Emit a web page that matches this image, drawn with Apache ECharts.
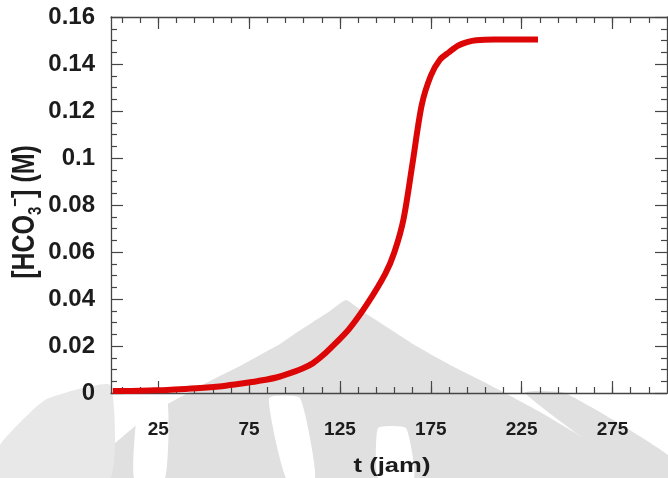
<!DOCTYPE html>
<html>
<head>
<meta charset="utf-8">
<script src="https://cdn.jsdelivr.net/npm/echarts@6/dist/echarts.min.js"></script>
<style>
  html, body { margin: 0; padding: 0; background: #ffffff; }
  #chart { width: 668px; height: 478px; }
</style>
</head>
<body>
<div id="chart"></div>
<script>
// Bicarbonate concentration over time
const timeJam = [0, 10, 20, 30, 40, 50, 60, 70, 80, 90, 100, 105, 110, 115, 120, 130, 140, 150, 155, 160, 165, 170, 175, 180, 185, 190, 195, 200, 210, 234];
const hco3M   = [0.0008, 0.0009, 0.0011, 0.0013, 0.0017, 0.0022, 0.0029, 0.0039, 0.0051, 0.0066, 0.0091, 0.0106, 0.0126, 0.0156, 0.0192, 0.0272, 0.0379, 0.0508, 0.0600, 0.0740, 0.0980, 0.1225, 0.1350, 0.1418, 0.1450, 0.1478, 0.1493, 0.1501, 0.1504, 0.1504];

// Axis ticks
const xMajorTicks = [25, 75, 125, 175, 225, 275];
const xMinorTicks = [5, 15, 25, 35, 45, 55, 65, 75, 85, 95, 105, 115, 125, 135, 145, 155, 165, 175, 185, 195, 205, 215, 225, 235, 245, 255, 265, 275, 285, 295];
const xRange = [-1, 305];
const yRange = [0, 0.16];
const yStep = 0.02;

const FONT = "'Liberation Sans', Arial, Helvetica, sans-serif";
const AXIS_COLOR = '#454545';
const TEXT_COLOR = '#1c1c1c';
const MARK_GREY = '#e0e0e0';

const chart = echarts.init(document.getElementById('chart'), null, { renderer: 'canvas' });

function xAxisBase(position) {
  return {
    type: 'value', position: position, min: xRange[0], max: xRange[1],
    splitLine: { show: false },
    axisLine: { show: true, onZero: false, lineStyle: { color: AXIS_COLOR, width: 1.3 } },
    axisLabel: { show: false }
  };
}

const majorTick = { show: true, inside: true, length: 12, customValues: xMajorTicks, lineStyle: { color: AXIS_COLOR, width: 1.2 } };
const minorTick = { show: true, inside: true, length: 6, customValues: xMinorTicks, lineStyle: { color: AXIS_COLOR, width: 1.2 } };

const xBottom = Object.assign(xAxisBase('bottom'), {
  axisTick: majorTick,
  axisLabel: { show: true, customValues: xMajorTicks, margin: 27, fontSize: 19, fontWeight: 'bold', color: TEXT_COLOR, fontFamily: FONT }
});
const xTop = Object.assign(xAxisBase('top'), { axisTick: majorTick });
const xBottomMinor = Object.assign(xAxisBase('bottom'), { axisLine: { show: false, onZero: false }, axisTick: minorTick });
const xTopMinor = Object.assign(xAxisBase('top'), { axisLine: { show: false, onZero: false }, axisTick: minorTick });

function yAxisBase(position, showLabels) {
  return {
    type: 'value', position: position, min: yRange[0], max: yRange[1], interval: yStep,
    splitLine: { show: false }, minorSplitLine: { show: false },
    axisLine: { show: true, onZero: false, lineStyle: { color: AXIS_COLOR, width: 1.3 } },
    axisTick: { show: true, inside: true, length: 12, lineStyle: { color: AXIS_COLOR, width: 1.2 } },
    minorTick: { show: true, splitNumber: 4, length: 6, lineStyle: { color: AXIS_COLOR, width: 1.2 } },
    axisLabel: { show: showLabels, margin: 16, fontSize: 24, fontWeight: 'bold', color: TEXT_COLOR, fontFamily: FONT }
  };
}

// faint emblem in the page background
function shape(points, fill) {
  return { type: 'polygon', silent: true, z: -10, shape: { points: points, smooth: 0.15 }, style: { fill: fill } };
}
const emblem = [
  shape([[346, 300], [362, 311], [379, 322], [396, 333], [413, 344], [432, 355], [452, 366], [482, 381], [505, 393],
         [540, 412], [590, 442], [640, 478],
         [80, 478], [112, 446], [150, 414], [188, 393], [210, 381], [240, 366], [260, 355], [280, 344], [296, 333], [313, 322], [330, 311]], MARK_GREY),
  shape([[45, 400], [110, 385], [110, 478], [0, 478], [0, 445]], '#e8e8e8'),
  shape([[525, 393], [565, 393], [668, 455], [668, 478], [640, 478]], MARK_GREY),
  shape([[140, 398], [167, 398], [165, 478], [134, 478]], '#ffffff'),
  shape([[269, 398], [300, 398], [315, 478], [286, 478]], '#ffffff'),
  shape([[378, 428], [406, 428], [414, 478], [378, 478]], '#ffffff')
];

chart.setOption({
  animation: false,
  backgroundColor: '#ffffff',
  grid: { left: 111, top: 17, right: 1, bottom: 85, containLabel: false },
  xAxis: [xBottom, xTop, xBottomMinor, xTopMinor],
  yAxis: [yAxisBase('left', true), yAxisBase('right', false)],
  graphic: emblem.concat([
    {
      type: 'text', z: 10,
      x: 392, y: 466,
      scaleX: 1.22,
      style: {
        text: 't (jam)', align: 'center', verticalAlign: 'middle',
        fontSize: 21, fontWeight: 'bold', fontFamily: FONT, fill: TEXT_COLOR
      }
    },
    {
      type: 'text', z: 10,
      x: 26, y: 212,
      rotation: Math.PI / 2,
      scaleY: 1.22,
      style: {
        text: '{b|[HCO}{s|3}{p|−}{b|] (M)}',
        align: 'center', verticalAlign: 'middle',
        fill: TEXT_COLOR,
        rich: {
          b: { fontSize: 25, fontWeight: 'bold', fontFamily: FONT, fill: TEXT_COLOR, lineHeight: 32, verticalAlign: 'middle' },
          s: { fontSize: 15, fontWeight: 'bold', fontFamily: FONT, fill: TEXT_COLOR, lineHeight: 15, verticalAlign: 'bottom' },
          p: { fontSize: 15, fontWeight: 'bold', fontFamily: FONT, fill: TEXT_COLOR, lineHeight: 15, verticalAlign: 'top' }
        }
      }
    }
  ]),
  series: [{
    type: 'line',
    xAxisIndex: 0, yAxisIndex: 0,
    data: timeJam.map((t, i) => [t, hco3M[i]]),
    smooth: 0.3,
    showSymbol: false,
    lineStyle: { color: '#dd0606', width: 6, cap: 'butt' },
    z: 5
  }]
});
</script>
</body>
</html>
